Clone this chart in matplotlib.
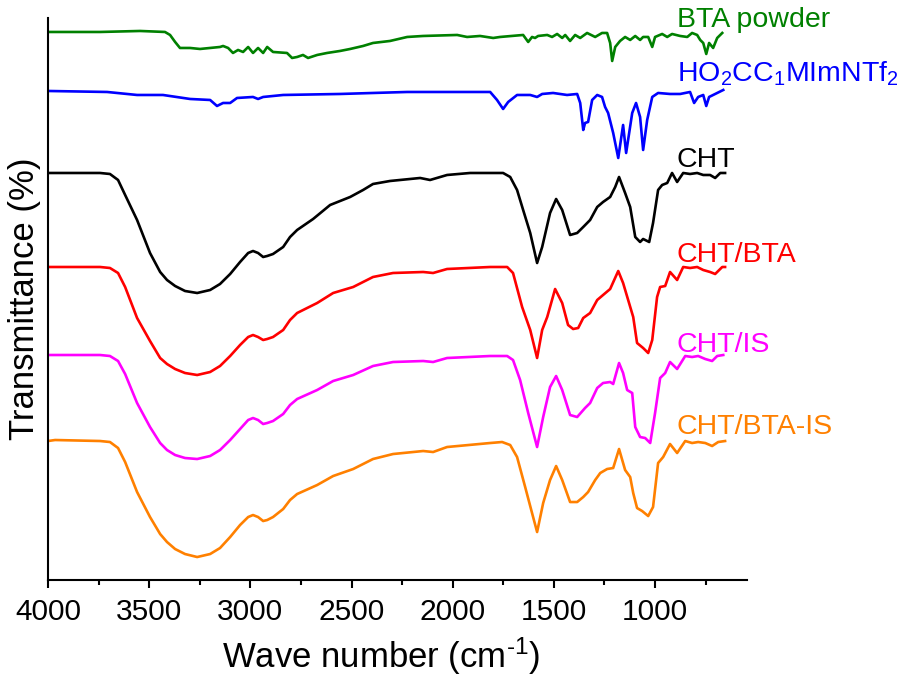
import matplotlib
matplotlib.use("Agg")
import matplotlib.pyplot as plt
from matplotlib.ticker import MultipleLocator

plt.rcParams["font.family"] = ["Liberation Sans", "DejaVu Sans"]
plt.rcParams["mathtext.fontset"] = "custom"
plt.rcParams["mathtext.rm"] = "Liberation Sans"
plt.rcParams["mathtext.default"] = "regular"

# FTIR spectra, stacked (arbitrary transmittance units, already offset)
bta_wn = [4000, 3743, 3545, 3422, 3397, 3372, 3348, 3298, 3249, 3150, 3135, 3110, 3086,
          3061, 3036, 3011, 2987, 2962, 2937, 2917, 2888, 2819, 2794, 2769, 2740, 2715,
          2670, 2621, 2557, 2507, 2443, 2394, 2310, 2225, 2146, 1978, 1929, 1865, 1800,
          1766, 1652, 1627, 1608, 1593, 1578, 1533, 1509, 1484, 1459, 1444, 1420, 1395,
          1370, 1336, 1296, 1262, 1237, 1222, 1212, 1197, 1173, 1148, 1123, 1098, 1074,
          1059, 1034, 1014, 1000, 965, 940, 916, 876, 841, 817, 792, 777, 762, 747, 733,
          713, 693, 668]
bta_t = [548, 548, 549, 548, 545, 538, 532, 532, 531, 533, 534, 532, 527,
         530, 528, 533, 527, 532, 527, 533, 528, 527, 522, 523, 525, 522,
         525, 527, 529, 531, 534, 537, 539, 543, 544, 545, 543, 544, 542,
         543, 545, 538, 543, 542, 544, 545, 543, 546, 542, 545, 539, 545,
         542, 547, 543, 547, 547, 537, 519, 533, 539, 543, 540, 544, 540,
         543, 543, 533, 543, 546, 543, 546, 544, 543, 547, 545, 540, 537, 526, 537,
         532, 542, 547]

il_wn = [4000, 3708, 3560, 3432, 3298, 3199, 3165, 3135, 3100, 3066, 2987, 2962, 2937,
         2838, 2557, 2394, 2225, 1815, 1781, 1751, 1726, 1682, 1617, 1583, 1558, 1504,
         1435, 1385, 1370, 1355, 1346, 1331, 1311, 1286, 1262, 1247, 1232, 1207, 1182,
         1158, 1143, 1113, 1094, 1074, 1059, 1039, 1014, 985, 926, 876, 827, 807, 787,
         762, 747, 733, 693, 663]
il_t = [489, 488, 485, 485, 481, 480, 474, 477, 477, 482, 483, 481, 483,
        485, 486, 487, 488, 488, 480, 471, 478, 485, 485, 483, 486, 487,
        485, 486, 477, 450, 457, 458, 480, 485, 483, 473, 467, 447, 422,
        455, 427, 467, 477, 463, 430, 460, 483, 487, 486, 486, 488, 477, 483,
        485, 474, 483, 487, 490]

cht_wn = [4000, 3743, 3694, 3654, 3619, 3560, 3496, 3446, 3412, 3372, 3323, 3263, 3199,
          3150, 3100, 3051, 3011, 2987, 2962, 2937, 2917, 2888, 2838, 2804, 2769, 2690,
          2606, 2507, 2443, 2394, 2310, 2161, 2112, 2028, 1914, 1751, 1716, 1682, 1652,
          1617, 1583, 1558, 1519, 1489, 1459, 1420, 1385, 1355, 1321, 1286, 1257, 1222,
          1197, 1178, 1148, 1123, 1098, 1074, 1059, 1029, 1010, 985, 965, 940, 916, 891,
          861, 827, 792, 762, 728, 703, 678, 654]
cht_t = [407, 407, 406, 400, 385, 360, 327, 308, 300, 294, 289, 287, 290,
         296, 306, 318, 327, 329, 327, 323, 324, 326, 333, 343, 350, 361,
         375, 383, 390, 396, 399, 402, 400, 405, 407, 407, 403, 390, 370,
         347, 317, 333, 367, 381, 370, 345, 347, 353, 360, 373, 378, 383,
         393, 403, 387, 373, 343, 338, 341, 338, 357, 390, 395, 397, 407, 398,
         407, 406, 407, 405, 405, 402, 407, 407]

cht_bta_wn = [4000, 3743, 3694, 3654, 3619, 3560, 3496, 3446, 3412, 3372, 3323, 3263,
              3199, 3150, 3100, 3051, 3011, 2987, 2962, 2937, 2917, 2888, 2838, 2804,
              2769, 2670, 2591, 2492, 2394, 2295, 2146, 2097, 2028, 1815, 1731, 1702,
              1657, 1617, 1583, 1558, 1533, 1494, 1459, 1430, 1405, 1380, 1355, 1321,
              1286, 1257, 1222, 1182, 1158, 1133, 1108, 1089, 1059, 1034, 1014, 990, 975,
              950, 926, 891, 861, 827, 792, 762, 728, 703, 668, 654]
cht_bta_t = [313, 313, 312, 307, 293, 262, 239, 222, 216, 211, 207, 205,
             208, 214, 224, 235, 243, 245, 243, 240, 241, 243, 250, 260,
             267, 277, 287, 293, 303, 307, 308, 307, 311, 313, 313, 307,
             273, 250, 222, 250, 263, 291, 277, 255, 251, 252, 262, 267,
             280, 285, 291, 309, 297, 280, 263, 237, 232, 227, 240, 283, 293,
             294, 308, 300, 313, 312, 313, 310, 308, 306, 313, 313]

cht_is_wn = [4000, 3743, 3694, 3654, 3619, 3560, 3496, 3446, 3412, 3372, 3323, 3263,
             3199, 3150, 3100, 3051, 3011, 2987, 2962, 2937, 2917, 2888, 2838, 2804,
             2769, 2670, 2591, 2492, 2394, 2295, 2146, 2097, 2028, 1815, 1731, 1702,
             1667, 1627, 1583, 1553, 1519, 1489, 1459, 1420, 1385, 1346, 1321, 1286,
             1257, 1222, 1207, 1178, 1158, 1138, 1113, 1098, 1074, 1049, 1024, 1000, 975,
             950, 926, 891, 851, 817, 787, 752, 718, 693, 663]
cht_is_t = [225, 225, 224, 219, 206, 177, 153, 137, 130, 125, 122, 121,
            124, 130, 140, 151, 160, 162, 160, 156, 157, 159, 166, 175,
            181, 190, 199, 205, 214, 218, 219, 218, 222, 224, 224, 220,
            200, 167, 133, 163, 193, 204, 190, 165, 163, 172, 177, 192,
            197, 198, 196, 217, 207, 190, 187, 153, 143, 142, 137, 167, 202,
            207, 218, 211, 224, 223, 224, 221, 219, 224, 225]

cht_bta_is_wn = [4000, 3965, 3743, 3694, 3654, 3619, 3560, 3496, 3446, 3412, 3372, 3323,
                 3263, 3199, 3150, 3100, 3051, 3011, 2987, 2962, 2937, 2917, 2888, 2838,
                 2804, 2769, 2670, 2591, 2492, 2394, 2295, 2146, 2097, 2028, 1815, 1756,
                 1716, 1682, 1642, 1608, 1583, 1553, 1519, 1489, 1459, 1420, 1385, 1355,
                 1331, 1296, 1271, 1237, 1207, 1178, 1148, 1123, 1108, 1089, 1064, 1034,
                 1010, 985, 960, 926, 891, 851, 817, 787, 752, 718, 688, 654]
cht_bta_is_t = [139, 140, 139, 138, 132, 118, 88, 63, 46, 38, 31, 26,
                23, 26, 32, 43, 55, 63, 65, 63, 59, 60, 63, 71,
                80, 86, 95, 104, 111, 121, 126, 129, 128, 133, 137, 138,
                135, 123, 93, 67, 48, 77, 100, 114, 100, 78, 78, 83,
                88, 100, 107, 111, 112, 131, 110, 103, 87, 72, 69, 64,
                73, 117, 123, 136, 127, 139, 137, 138, 137, 134, 138, 139]

series = [
    (bta_wn, bta_t, "#008000", "BTA powder", 553),
    (il_wn, il_t, "#0000ff", "HO$_2$CC$_1$MImNTf$_2$", 498),
    (cht_wn, cht_t, "black", "CHT", 413),
    (cht_bta_wn, cht_bta_t, "#ff0000", "CHT/BTA", 318),
    (cht_is_wn, cht_is_t, "#ff00ff", "CHT/IS", 228),
    (cht_bta_is_wn, cht_bta_is_t, "#ff8000", "CHT/BTA-IS", 146),
]

fig = plt.figure(figsize=(8.98, 6.78), dpi=100)
ax = fig.add_axes([0.0535, 0.1445, 0.7785, 0.829])

for wn, t, color, label, label_y in series:
    ax.plot(wn, t, color=color, lw=1.9, solid_joinstyle="round")
    ax.text(894, label_y, label, color=color, fontsize=20.5, ha="left",
            va="baseline", clip_on=False)

ax.set_xlim(4000, 545)
ax.set_ylim(0, 562)
ax.xaxis.set_major_locator(MultipleLocator(500))
ax.xaxis.set_minor_locator(MultipleLocator(250))
ax.set_yticks([])
for side in ["top", "right"]:
    ax.spines[side].set_visible(False)
for side in ["left", "bottom"]:
    ax.spines[side].set_linewidth(1.5)
ax.tick_params(axis="x", which="major", length=6, width=1.5, labelsize=21.5, pad=7)
ax.tick_params(axis="x", which="minor", length=3.5, width=1.5)

ax.set_xlabel(r"Wave number (cm$^{\text{-}1}$)", fontsize=25)
ax.xaxis.set_label_coords(0.476, -0.098)
ax.set_ylabel("Transmittance (%)", fontsize=25, labelpad=5)

fig.savefig("out.png", dpi=100)
